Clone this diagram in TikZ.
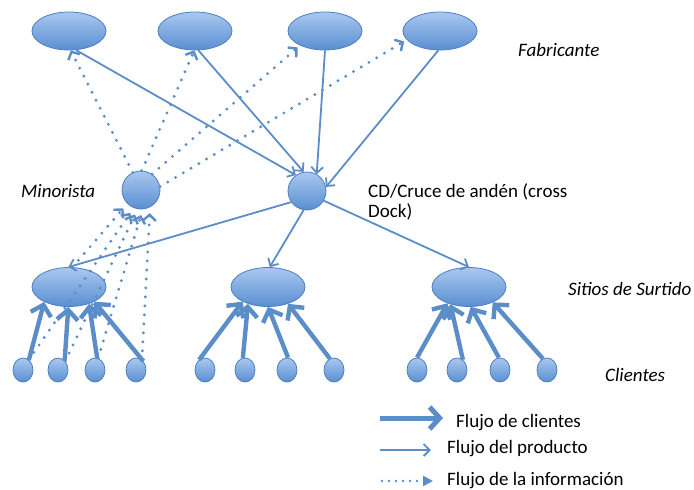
\documentclass[tikz,border=0pt]{standalone}
\usepackage{fontspec}
\setmainfont{Carlito}
\usetikzlibrary{arrows.meta,shapes.geometric}

\definecolor{nodetop}{HTML}{A9C8EF}
\definecolor{nodebot}{HTML}{5A8ED2}
\definecolor{nodeedge}{HTML}{4B7FBD}
\definecolor{flow}{HTML}{5B8DC9}

\begin{document}
\begin{tikzpicture}[x=1pt,y=-1pt,
  blob/.style={ellipse, draw=nodeedge, line width=0.8pt, top color=nodetop, bottom color=nodebot, inner sep=0pt},
  fab/.style={blob, minimum width=74pt, minimum height=38pt},
  site/.style={blob, minimum width=74pt, minimum height=39pt},
  hub/.style={blob, minimum width=38pt, minimum height=38pt},
  client/.style={blob, minimum width=20pt, minimum height=24pt},
  product/.style={draw=flow, line width=1.8pt, -{Straight Barb[length=6pt,width=12pt]}},
  info/.style={draw=flow, line width=3.2pt, line cap=round, dash pattern=on 0pt off 9pt,
    -{Straight Barb[length=6pt,width=13pt,line width=2.4pt]}},
  customer/.style={draw=flow, line width=4.4pt, -{Straight Barb[length=10pt,width=21pt]}},
  lbl/.style={font=\fontsize{19}{20}\selectfont, inner sep=0pt, anchor=base west},
  ilbl/.style={lbl, font=\fontsize{19}{20}\selectfont\itshape},
]
\useasboundingbox (0,0) rectangle (694,490);

% manufacturers
\node[fab] (f1) at (69,31) {};
\node[fab] (f2) at (195,31) {};
\node[fab] (f3) at (325,31) {};
\node[fab] (f4) at (440,31) {};

% retailer and distribution centre
\node[hub] (mn) at (141,190) {};
\node[hub] (cd) at (307,191) {};

% pick-up sites
\node[site] (s1) at (69,287) {};
\node[site] (s2) at (268,287) {};
\node[site] (s3) at (469,287) {};

% customers
\foreach \n/\x in {11/23,12/58,13/95,14/136,21/205,22/245,23/287,24/334,31/417,32/457,33/500,34/547}
  \node[client] (c\n) at (\x,370) {};

% product flow
\draw[product] (f1.-70) -- (cd.125);
\draw[product] (f2.-80) -- (cd.100);
\draw[product] (f3.-90) -- (cd.60);
\draw[product] (f4.-95) -- (cd.12);
\draw[product] (cd.215) -- (s1.92);
\draw[product] (cd.-100) -- (s2.85);
\draw[product] (cd.-30) -- (s3.90);

% information flow towards the manufacturers
\draw[info] (mn.115) -- (f1.-85);
\draw[info] (mn.88) -- (f2.-92);
\draw[info, shorten >=3pt] (mn.55) -- (f3.-150);
\draw[info, shorten >=3pt] (mn.10) -- (f4.-165);

% information flow towards the retailer
\draw[info, shorten >=6pt] (s1.80) -- (mn.-135);
\draw[info, shorten >=6pt] (c11.60) -- (mn.-112);
\draw[info, shorten >=6pt] (c12.50) -- (mn.-100);
\draw[info, shorten >=6pt] (c13.75) -- (mn.-85);
\draw[info, shorten >=6pt] (c14.60) -- (mn.-62);

% customer flow
\draw[customer] (c11.60) -- (s1.-149);
\draw[customer] (c12.55) -- (s1.-92);
\draw[customer] (c13.80) -- (s1.-40);
\draw[customer] (c14.50) -- (s1.-30);
\draw[customer] (c21.120) -- (s2.-150);
\draw[customer] (c22.100) -- (s2.-140);
\draw[customer] (c23.85) -- (s2.-90);
\draw[customer] (c24.110) -- (s2.-40);
\draw[customer] (c31.90) -- (s3.-143);
\draw[customer] (c32.60) -- (s3.-137);
\draw[customer] (c33.95) -- (s3.-85);
\draw[customer] (c34.110) -- (s3.-33);

% tier labels
\node[ilbl] (tfab) at (518,56) {Fabricante};
\node[ilbl] (tmin) at (21,197) {Minorista};
\node[lbl] (tcd1) at (368,197) {CD/Cruce de andén (cross};
\node[lbl] (tcd2) at (368,217) {Dock)};
\node[ilbl] (tsite) at (568,295) {Sitios de Surtido};
\node[ilbl] (tcli) at (605,381) {Clientes};

% legend
\coordinate (k1a) at (380,418); \coordinate (k1b) at (443,418);
\coordinate (k2a) at (380,450); \coordinate (k2b) at (431,450);
\coordinate (k3a) at (382,481); \coordinate (k3b) at (433,481);
\draw[draw=flow, line width=5pt, -{Straight Barb[length=10pt,width=22pt]}] (k1a) -- (k1b);
\draw[product] (k2a) -- (k2b);
\draw[draw=flow, line width=2.6pt, line cap=round, dash pattern=on 0pt off 7pt,
  -{Triangle[length=10pt,width=10pt]}] (k3a) -- (k3b);
\node[lbl] (kt1) at (456,427) {Flujo de clientes};
\node[lbl] (kt2) at (447,453) {Flujo del producto};
\node[lbl] (kt3) at (447,485) {Flujo de la información};
\end{tikzpicture}
\end{document}
